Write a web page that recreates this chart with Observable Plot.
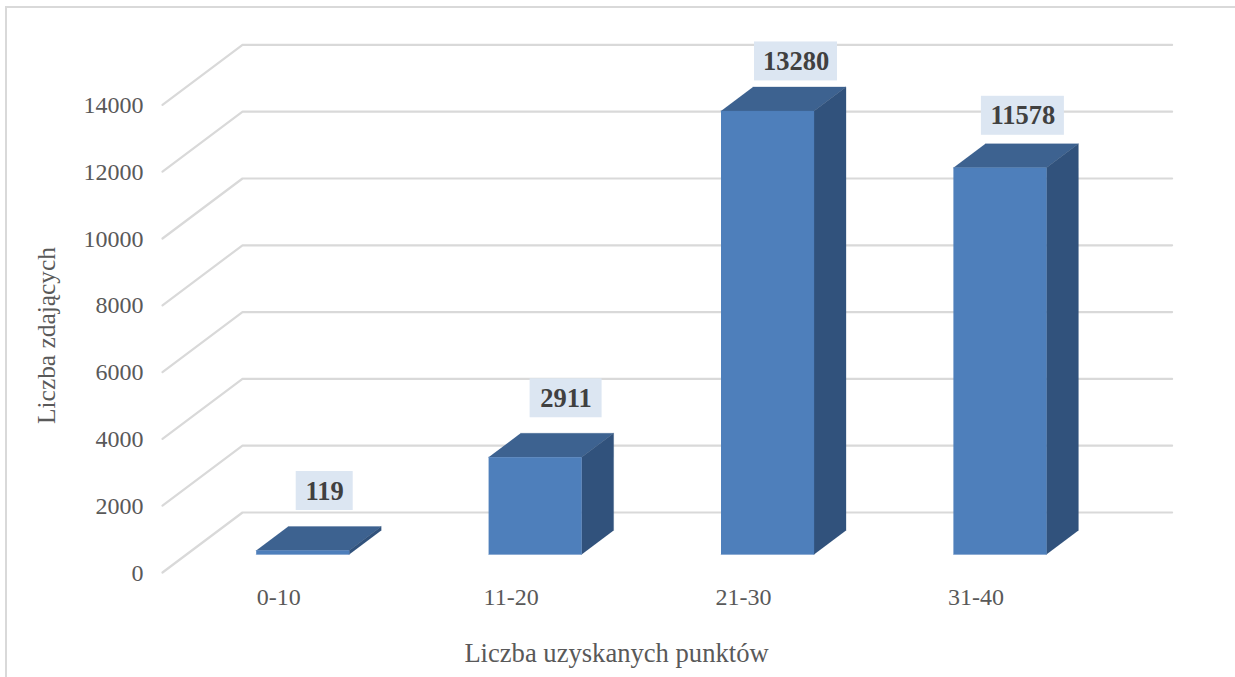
<!DOCTYPE html>
<html lang="pl">
<head>
<meta charset="utf-8">
<title>Liczba zdających</title>
<style>
  html, body { margin: 0; padding: 0; background: #fff; overflow: hidden; }
  #chart { position: relative; width: 1235px; height: 677px; }
  #chart svg { display: block; background: transparent; }
  #frame { position: absolute; left: 5px; top: 6px; right: 0; bottom: 0; border-left: 2px solid #d9d9d9; border-top: 2px solid #d9d9d9; }
</style>
<script src="https://cdn.jsdelivr.net/npm/d3@7"></script>
<script src="https://cdn.jsdelivr.net/npm/@observablehq/plot@0.6"></script>
</head>
<body>
<div id="chart"><div id="frame"></div></div>
<script>
const categories = ["0-10", "11-20", "21-30", "31-40"];
const values = [119, 2911, 13280, 11578];
const yTicks = [0, 2000, 4000, 6000, 8000, 10000, 12000, 14000];
const xTitle = "Liczba uzyskanych punktów";
const yTitle = "Liczba zdających";

// Layout: oblique projection, expressed in scale units
const pxX = 232.4;                 // px per category
const pxY = 467.6 / 14000;         // px per value
const depthX = 80 / pxX, depthY = 60 / pxY;
const barWidth = 93 / pxX;
const barFront = 0.3, barBack = 0.7; // fraction of the floor depth
const project = (x, y, d) => [x + d * depthX, y + d * depthY];
const font = "'Liberation Serif', 'Times New Roman', serif";

// Per-label nudges in px, [dx from bar centre, gap above bar top, box width]
const labelLayout = [[22, 59.5, 57], [31, 59, 72], [28.5, 49.5, 83], [23, 52, 83]];
const boxHeight = 39;

const grid = yTicks.flatMap(v => [
  {v, p: project(0, v, 0)},
  {v, p: project(0, v, 1)},
  {v, p: project(categories.length, v, 1)}
]);

const faces = {front: [], top: [], side: []};
values.forEach((v, i) => {
  const x0 = i + 0.5 - barWidth / 2, x1 = i + 0.5 + barWidth / 2;
  const q = (x, y, d) => project(x, y, d);
  const add = (k, pts) => pts.forEach(p => faces[k].push({i, p}));
  add("top", [q(x0, v, barFront), q(x1, v, barFront), q(x1, v, barBack), q(x0, v, barBack)]);
  add("side", [q(x1, 0, barFront), q(x1, v, barFront), q(x1, v, barBack), q(x1, 0, barBack)]);
  add("front", [q(x0, 0, barFront), q(x1, 0, barFront), q(x1, v, barFront), q(x0, v, barFront)]);
});

const labels = values.map((v, i) => {
  const [nx, gap, w] = labelLayout[i];
  const [bx, by] = project(i + 0.5, v, barFront);
  const cx = bx + nx / pxX, cy = by + gap / pxY;
  return {text: String(v), cx, cy, x1: cx - w / 2 / pxX, x2: cx + w / 2 / pxX,
          y1: cy - boxHeight / 2 / pxY, y2: cy + boxHeight / 2 / pxY};
});

const face = (k, fill) => Plot.line(faces[k], {
  x: d => d.p[0], y: d => d.p[1], z: "i", fill, stroke: fill, strokeWidth: 0.3, curve: "linear"
});

const chart = Plot.plot({
  width: 1235, height: 677,
  marginLeft: 162, marginRight: 143.4, marginTop: 104.4, marginBottom: 105,
  style: {background: "transparent", fontFamily: font},
  x: {domain: [0, categories.length]},
  y: {domain: [0, 14000]},
  marks: [
    Plot.line(grid, {x: d => d.p[0], y: d => d.p[1], z: "v", stroke: "#d9d9d9", strokeWidth: 2.2, curve: "linear"}),
    face("top", "#3d6290"),
    face("side", "#31527c"),
    face("front", "#4e7fbb"),
    Plot.rect(labels, {x1: "x1", x2: "x2", y1: "y1", y2: "y2", fill: "#dce6f2"}),
    Plot.text(labels, {x: "cx", y: "cy", text: "text", fill: "#404040", fontSize: 26.5, fontWeight: "bold", fontFamily: font}),
    Plot.axisY({ticks: yTicks, tickFormat: d => String(d), tickSize: 0, tickPadding: 19, label: null,
      fontSize: 24, fill: "#595959", fontFamily: font, dy: 0.5}),
    Plot.axisX({ticks: categories.map((_, i) => i + 0.5), tickFormat: d => categories[Math.floor(d)],
      tickSize: 0, tickPadding: 15, label: null, fontSize: 24, fill: "#595959", fontFamily: font}),
    Plot.text([xTitle], {x: () => 454 / pxX, y: () => -81 / pxY, text: d => d, fill: "#595959", fontSize: 26.6, fontFamily: font}),
    Plot.text([yTitle], {x: () => -116 / pxX, y: () => 237 / pxY, text: d => d, rotate: -90, fill: "#595959", fontSize: 25.4, fontFamily: font})
  ]
});
document.getElementById("chart").appendChild(chart);
chart.style.position = "relative";
</script>
</body>
</html>
